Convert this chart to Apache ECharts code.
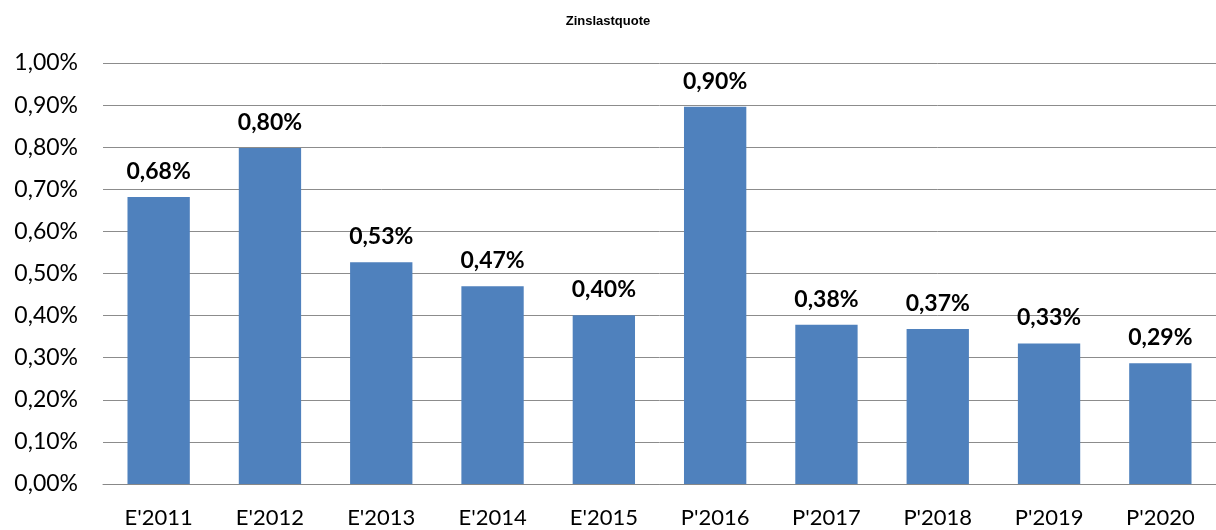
<!DOCTYPE html>
<html>
<head>
<meta charset="utf-8">
<script src="https://cdn.jsdelivr.net/npm/echarts@6/dist/echarts.min.js"></script>
<style>
  html, body { margin: 0; padding: 0; background: #fff; }
  #chart { width: 1216px; height: 530px; }
</style>
</head>
<body>
<div id="chart"></div>
<script>
  // Zinslastquote in Prozent
  const categories = ["E'2011", "E'2012", "E'2013", "E'2014", "E'2015", "P'2016", "P'2017", "P'2018", "P'2019", "P'2020"]
  const values = [0.682, 0.798, 0.527, 0.470, 0.401, 0.896, 0.378, 0.368, 0.334, 0.287]
  const labels = ['0,68%', '0,80%', '0,53%', '0,47%', '0,40%', '0,90%', '0,38%', '0,37%', '0,33%', '0,29%']

  const pct = v => v.toFixed(2).replace('.', ',') + '%'

  const chart = echarts.init(document.getElementById('chart'))
  chart.setOption({
    animation: false,
    title: {
      text: 'Zinslastquote',
      left: 'center',
      top: 10,
      textStyle: { fontFamily: 'Liberation Sans', fontSize: 13, fontWeight: 'bold', color: '#000' }
    },
    grid: { left: 103, right: -4, top: 63, bottom: 46, containLabel: false },
    xAxis: {
      type: 'category',
      data: categories,
      axisLine: { lineStyle: { color: '#888', width: 1 } },
      axisTick: { show: false },
      axisLabel: { fontFamily: 'Lato', fontSize: 22, color: '#000', margin: 23 }
    },
    yAxis: {
      type: 'value',
      min: 0,
      max: 1,
      interval: 0.1,
      axisLine: { show: false },
      axisTick: { show: false },
      splitLine: { lineStyle: { color: '#8c8c8c', width: 1 } },
      axisLabel: { fontFamily: 'Lato', fontSize: 23, color: '#000', margin: 25, formatter: pct }
    },
    series: [{
      type: 'bar',
      data: values,
      barWidth: '56%',
      itemStyle: { color: '#4f81bd' },
      label: {
        show: true,
        position: 'top',
        distance: 14,
        fontFamily: 'Lato',
        fontSize: 23,
        fontWeight: 'bold',
        color: '#000',
        formatter: p => labels[p.dataIndex]
      }
    }]
  })
</script>
</body>
</html>
